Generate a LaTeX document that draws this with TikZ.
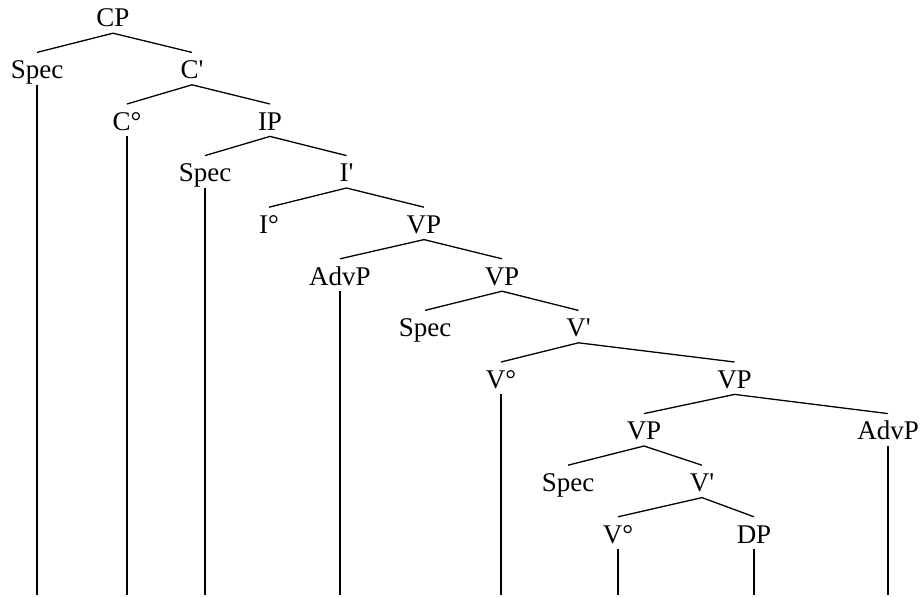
\documentclass[tikz,border=0pt]{standalone}
\usepackage{fontspec}
\setmainfont{Liberation Serif}[Ligatures=TeXOff]
\begin{document}
\begin{tikzpicture}[x=1pt,y=-1pt,
  lbl/.style={anchor=base,inner xsep=0pt,inner ysep=6pt,text height=20pt,text depth=0pt,font=\fontsize{27}{32}\selectfont},
  br/.style={line width=1.3pt},
  stem/.style={line width=1.3pt}]
\useasboundingbox (0,0) rectangle (920,597);
\coordinate (bot) at (0,595);
% row 0
\node[lbl] (cp) at (113,27) {CP};
% row 1
\node[lbl] (spec1) at (37,78.6) {Spec};
\node[lbl] (cbar) at (192,78.6) {C'};
% row 2
\node[lbl] (c0) at (127,130.2) {C°};
\node[lbl] (ip) at (270,130.2) {IP};
% row 3
\node[lbl] (spec2) at (205,181.8) {Spec};
\node[lbl] (ibar) at (346.5,181.8) {I'};
% row 4
\node[lbl] (i0) at (269,233.4) {I°};
\node[lbl] (vp1) at (424,233.4) {VP};
% row 5
\node[lbl] (advp1) at (340,285) {AdvP};
\node[lbl] (vp2) at (502,285) {VP};
% row 6
\node[lbl] (spec3) at (425,336.6) {Spec};
\node[lbl] (vbar1) at (578.5,336.6) {V'};
% row 7
\node[lbl] (v0a) at (501,388.2) {V°};
\node[lbl] (vp3) at (734.5,388.2) {VP};
% row 8
\node[lbl] (vp4) at (644,439.8) {VP};
\node[lbl] (advp2) at (888,439.8) {AdvP};
% row 9
\node[lbl] (spec4) at (568,491.4) {Spec};
\node[lbl] (vbar2) at (702,491.4) {V'};
% row 10
\node[lbl] (v0b) at (618,543) {V°};
\node[lbl] (dp) at (754,543) {DP};
% branches
\draw[br] (spec1.north) -- (cp.south) -- (cbar.north);
\draw[br] (c0.north) -- (cbar.south) -- (ip.north);
\draw[br] (spec2.north) -- (ip.south) -- (ibar.north);
\draw[br] (i0.north) -- (ibar.south) -- (vp1.north);
\draw[br] (advp1.north) -- (vp1.south) -- (vp2.north);
\draw[br] (spec3.north) -- (vp2.south) -- (vbar1.north);
\draw[br] (v0a.north) -- (vbar1.south) -- (vp3.north);
\draw[br] (vp4.north) -- (vp3.south) -- (advp2.north);
\draw[br] (spec4.north) -- (vp4.south) -- (vbar2.north);
\draw[br] (v0b.north) -- (vbar2.south) -- (dp.north);
% stems
\foreach \n in {spec1,c0,spec2,advp1,v0a,v0b,dp,advp2}
  \draw[stem] (\n.south) -- (\n.south |- bot);
\end{tikzpicture}
\end{document}
